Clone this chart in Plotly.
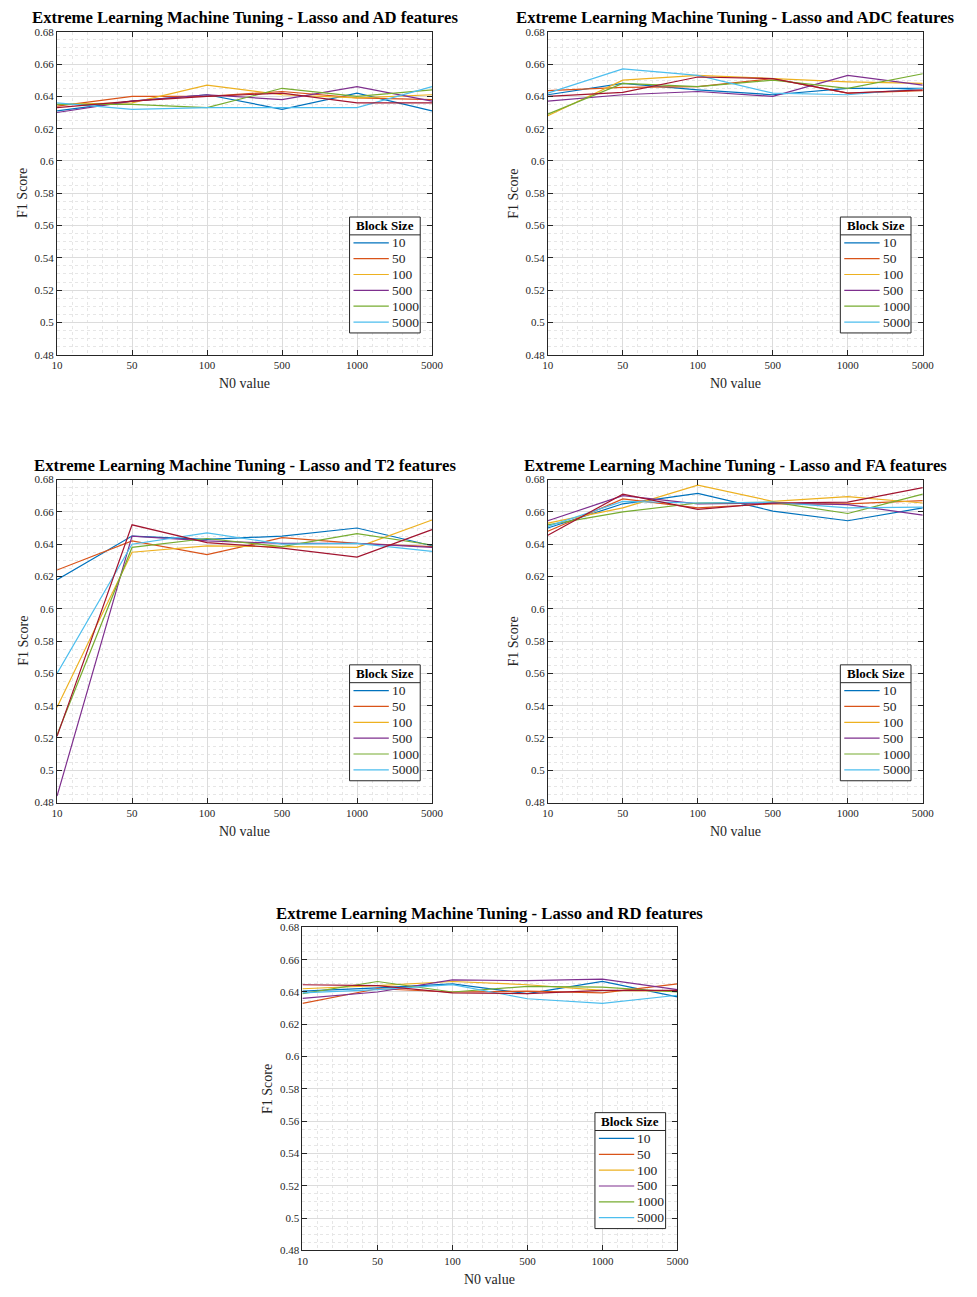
import plotly.graph_objects as go

# ---------------- data ----------------
n0_labels = ["10", "50", "100", "500", "1000", "5000"]
block_sizes = ["10", "50", "100", "500", "1000", "5000"]
y_tick_vals = [0.48, 0.50, 0.52, 0.54, 0.56, 0.58, 0.60, 0.62, 0.64, 0.66, 0.68]
y_tick_text = ["0.48", "0.5", "0.52", "0.54", "0.56", "0.58", "0.6", "0.62", "0.64", "0.66", "0.68"]

titles = [
    "Extreme Learning Machine Tuning - Lasso and AD features",
    "Extreme Learning Machine Tuning - Lasso and ADC features",
    "Extreme Learning Machine Tuning - Lasso and T2 features",
    "Extreme Learning Machine Tuning - Lasso and FA features",
    "Extreme Learning Machine Tuning - Lasso and RD features",
]

# F1 scores per panel; one list per block size (10, 50, 100, 500, 1000, 5000) + extra unlabeled line
ad_10 = [0.631, 0.637, 0.641, 0.632, 0.642, 0.631]
ad_50 = [0.634, 0.640, 0.640, 0.643, 0.639, 0.638]
ad_100 = [0.635, 0.636, 0.647, 0.641, 0.639, 0.641]
ad_500 = [0.630, 0.637, 0.641, 0.638, 0.646, 0.637]
ad_1000 = [0.635, 0.635, 0.633, 0.645, 0.640, 0.644]
ad_5000 = [0.636, 0.632, 0.633, 0.633, 0.633, 0.646]
ad_extra = [0.633, 0.637, 0.640, 0.642, 0.636, 0.636]

adc_10 = [0.641, 0.648, 0.644, 0.641, 0.645, 0.645]
adc_50 = [0.6435, 0.6455, 0.646, 0.651, 0.642, 0.6435]
adc_100 = [0.628, 0.650, 0.653, 0.651, 0.649, 0.648]
adc_500 = [0.637, 0.641, 0.643, 0.640, 0.653, 0.647]
adc_1000 = [0.629, 0.648, 0.646, 0.650, 0.645, 0.654]
adc_5000 = [0.642, 0.657, 0.653, 0.642, 0.641, 0.645]
adc_extra = [0.640, 0.6425, 0.652, 0.651, 0.642, 0.644]

t2_10 = [0.618, 0.645, 0.643, 0.645, 0.650, 0.639]
t2_50 = [0.624, 0.642, 0.6335, 0.644, 0.6405, 0.6385]
t2_100 = [0.539, 0.635, 0.639, 0.6385, 0.638, 0.655]
t2_500 = [0.484, 0.645, 0.642, 0.6405, 0.6405, 0.638]
t2_1000 = [0.522, 0.638, 0.6435, 0.6385, 0.6465, 0.6395]
t2_5000 = [0.560, 0.640, 0.647, 0.640, 0.6405, 0.6355]
t2_extra = [0.521, 0.652, 0.641, 0.6376, 0.632, 0.649]

fa_10 = [0.650, 0.665, 0.6715, 0.6605, 0.6545, 0.6625]
fa_50 = [0.648, 0.668, 0.6625, 0.665, 0.665, 0.667]
fa_100 = [0.653, 0.6625, 0.6765, 0.6665, 0.6695, 0.6655]
fa_500 = [0.6545, 0.670, 0.665, 0.6655, 0.6645, 0.658]
fa_1000 = [0.652, 0.660, 0.6655, 0.666, 0.659, 0.671]
fa_5000 = [0.651, 0.6665, 0.6655, 0.666, 0.6625, 0.663]
fa_extra = [0.6455, 0.671, 0.6615, 0.6655, 0.666, 0.675]

rd_10 = [0.6405, 0.6425, 0.645, 0.639, 0.6466, 0.637]
rd_50 = [0.633, 0.642, 0.640, 0.6405, 0.6395, 0.645]
rd_100 = [0.642, 0.644, 0.6465, 0.6445, 0.641, 0.6405]
rd_500 = [0.636, 0.640, 0.6475, 0.647, 0.648, 0.6415]
rd_1000 = [0.639, 0.6465, 0.640, 0.6435, 0.643, 0.640]
rd_5000 = [0.6395, 0.6415, 0.6445, 0.6358, 0.633, 0.638]
rd_extra = [0.6445, 0.644, 0.6395, 0.639, 0.641, 0.641]

panels = [
    [ad_10, ad_50, ad_100, ad_500, ad_1000, ad_5000, ad_extra],
    [adc_10, adc_50, adc_100, adc_500, adc_1000, adc_5000, adc_extra],
    [t2_10, t2_50, t2_100, t2_500, t2_1000, t2_5000, t2_extra],
    [fa_10, fa_50, fa_100, fa_500, fa_1000, fa_5000, fa_extra],
    [rd_10, rd_50, rd_100, rd_500, rd_1000, rd_5000, rd_extra],
]

# ---------------- style ----------------
colors = ["#0072BD", "#D95319", "#EDB120", "#7E2F8E", "#77AC30", "#4DBEEE", "#A2142F"]
W, H = 977, 1297
FONT = "Liberation Serif"
AXC = "#262626"

# axes pixel boxes (left, right, top, bottom)
boxes = [
    (52, 434, 26, 352),
    (552, 934, 26, 352),
    (52, 434, 478, 804),
    (552, 934, 478, 804),
    (302, 684, 930, 1256),
]


def px(x):
    return x / W


def py(y):
    return 1 - y / H


fig = go.Figure()
layout = dict(
    width=W, height=H,
    margin=dict(l=0, r=0, t=0, b=0),
    paper_bgcolor="white", plot_bgcolor="white",
    font=dict(family=FONT, color=AXC, size=11),
    showlegend=False,
)
annotations = []
shapes = []
x_idx = list(range(1, len(n0_labels) + 1))

for p, (series, box) in enumerate(zip(panels, boxes)):
    k = p + 1
    xa = "x" if k == 1 else f"x{k}"
    ya = "y" if k == 1 else f"y{k}"
    l, r, t, b = box
    for i, vals in enumerate(series):
        fig.add_trace(go.Scatter(
            x=x_idx, y=vals, mode="lines",
            line=dict(color=colors[i], width=1.2),
            name=block_sizes[i] if i < len(block_sizes) else "",
            xaxis=xa, yaxis=ya,
        ))
    common = dict(
        showline=True, linecolor=AXC, linewidth=1, mirror="ticks",
        ticks="inside", ticklen=5, tickcolor=AXC, tickwidth=1,
        showgrid=True, gridcolor="#dcdcdc", gridwidth=1,
        zeroline=False, tickfont=dict(family=FONT, size=11, color=AXC),
    )
    layout["xaxis" if k == 1 else f"xaxis{k}"] = dict(
        common, domain=[px(l), px(r)], anchor=ya, range=[1, 6],
        tickvals=x_idx, ticktext=n0_labels,
        minor=dict(dtick=0.2, tick0=1, showgrid=True, gridcolor="#e6e6e6", griddash="dot", ticks=""),
    )
    layout["yaxis" if k == 1 else f"yaxis{k}"] = dict(
        common, domain=[py(b), py(t)], anchor=xa, range=[0.48, 0.68],
        tickvals=y_tick_vals, ticktext=y_tick_text,
        minor=dict(dtick=0.005, tick0=0.48, showgrid=True, gridcolor="#e6e6e6", griddash="dot", ticks=""),
    )
    cx = (l + r) / 2
    annotations.append(dict(text="<b>" + titles[p] + "</b>", x=px(cx), y=py(t - 14),
                            xref="paper", yref="paper", showarrow=False, xanchor="center", yanchor="middle",
                            font=dict(family=FONT, size=16.7, color="black")))
    annotations.append(dict(text="N0 value", x=px(cx), y=py(b + 29),
                            xref="paper", yref="paper", showarrow=False, xanchor="center", yanchor="middle",
                            font=dict(family=FONT, size=14, color=AXC)))
    annotations.append(dict(text="F1 Score", x=px(l - 35), y=py((t + b) / 2), textangle=-90,
                            xref="paper", yref="paper", showarrow=False, xanchor="center", yanchor="middle",
                            font=dict(family=FONT, size=14, color=AXC)))

    # legend box (MATLAB-style, with title separator)
    bx0, bx1 = r - 84, r - 12
    by0, by1 = b - 139, b - 22
    shapes.append(dict(type="rect", xref="paper", yref="paper",
                       x0=px(bx0), x1=px(bx1), y0=py(by1), y1=py(by0),
                       fillcolor="white", line=dict(color=AXC, width=1), layer="above"))
    shapes.append(dict(type="line", xref="paper", yref="paper",
                       x0=px(bx0), x1=px(bx1), y0=py(b - 121), y1=py(b - 121),
                       line=dict(color=AXC, width=1), layer="above"))
    annotations.append(dict(text="<b>Block Size</b>", x=px((bx0 + bx1) / 2), y=py(b - 130),
                            xref="paper", yref="paper", showarrow=False, xanchor="center", yanchor="middle",
                            font=dict(family=FONT, size=13, color="black")))
    for i, name in enumerate(block_sizes):
        yy = b - 113 + 16 * i
        shapes.append(dict(type="line", xref="paper", yref="paper",
                           x0=px(r - 80), x1=px(r - 44), y0=py(yy), y1=py(yy),
                           line=dict(color=colors[i], width=1.2), layer="above"))
        annotations.append(dict(text=name, x=px(r - 43), y=py(yy),
                                xref="paper", yref="paper", showarrow=False, xanchor="left", yanchor="middle",
                                font=dict(family=FONT, size=13.5, color=AXC)))

layout["annotations"] = annotations
layout["shapes"] = shapes
fig.update_layout(**layout)
fig.write_html("out.html",
               post_script="document.body.style.margin='0';document.body.style.overflow='hidden';")
